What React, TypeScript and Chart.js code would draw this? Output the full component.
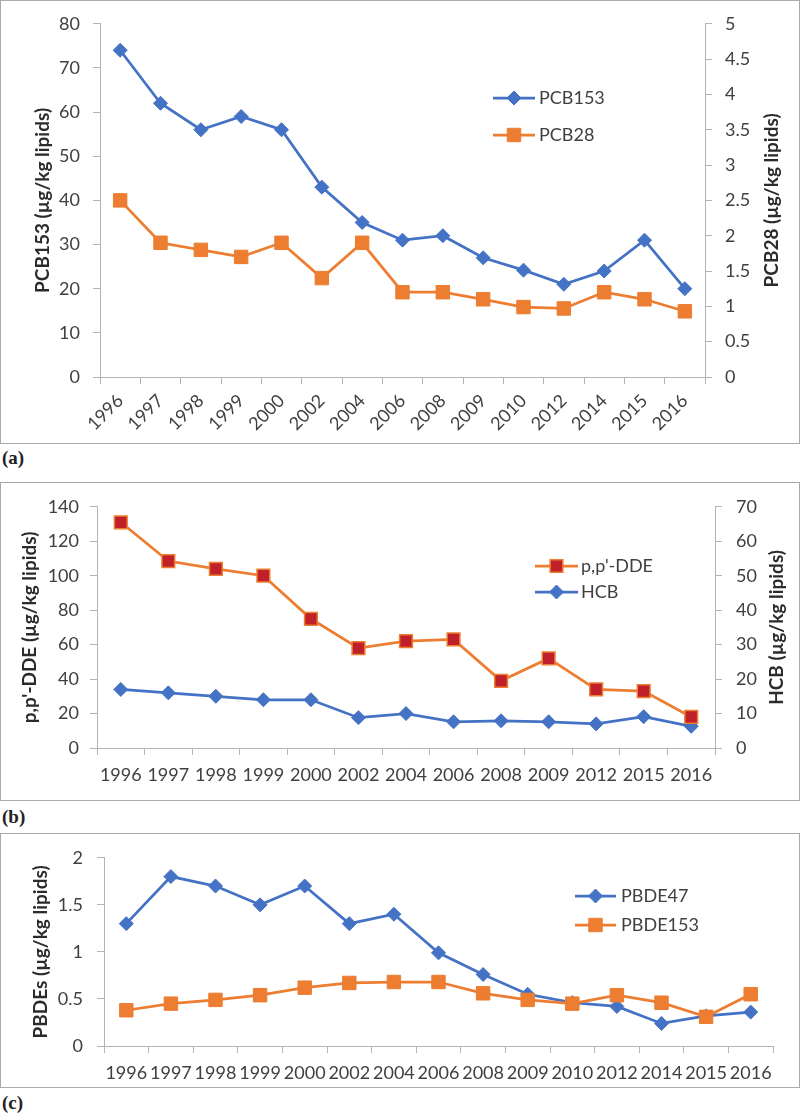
import React, { useEffect, useRef } from 'react';
import { Chart, registerables } from 'chart.js';

Chart.register(...registerables);

// ---------- data ----------
const yearsA = ['1996', '1997', '1998', '1999', '2000', '2002', '2004', '2006', '2008', '2009', '2010', '2012', '2014', '2015', '2016'];
const pcb153 = [74, 62, 56, 59, 56, 43, 35, 31, 32, 27, 24.2, 21, 24, 31, 20];
const pcb28 = [2.5, 1.9, 1.8, 1.7, 1.9, 1.4, 1.9, 1.2, 1.2, 1.1, 0.99, 0.97, 1.2, 1.1, 0.93];

const yearsB = ['1996', '1997', '1998', '1999', '2000', '2002', '2004', '2006', '2008', '2009', '2012', '2015', '2016'];
const ddeValues = [131, 108.5, 104, 100, 75, 58, 62, 63, 39, 52, 34, 33, 18];
const hcbValues = [17, 16, 15, 14, 14, 8.8, 10, 7.6, 7.9, 7.6, 7, 9.1, 6.3];

const yearsC = ['1996', '1997', '1998', '1999', '2000', '2002', '2004', '2006', '2008', '2009', '2010', '2012', '2014', '2015', '2016'];
const pbde47 = [1.3, 1.8, 1.7, 1.5, 1.7, 1.3, 1.4, 0.99, 0.76, 0.55, 0.46, 0.42, 0.24, 0.32, 0.36];
const pbde153 = [0.38, 0.45, 0.49, 0.54, 0.62, 0.67, 0.68, 0.68, 0.56, 0.49, 0.45, 0.54, 0.46, 0.31, 0.55];

// ---------- styles ----------
const FONT = 'Lato, "Open Sans", "Noto Sans", sans-serif';
const TICK = '#404040';
const TITLE = '#2b2b2b';
const AXIS = '#b4b4b4';
const BLUE = '#4472C4';
const ORANGE = '#ED7D31';
const DARKRED = '#C0202A';

function drawMarker(ctx: CanvasRenderingContext2D, style: string, x: number, y: number, r: number, fill: string, stroke: string, bw: number) {
  ctx.beginPath();
  if (style === 'rectRot') {
    ctx.moveTo(x - r, y);
    ctx.lineTo(x, y - r);
    ctx.lineTo(x + r, y);
    ctx.lineTo(x, y + r);
    ctx.closePath();
  } else {
    const s = Math.SQRT1_2 * r;
    ctx.rect(x - s, y - s, 2 * s, 2 * s);
  }
  ctx.fillStyle = fill;
  ctx.fill();
  ctx.lineWidth = bw;
  ctx.strokeStyle = stroke;
  ctx.stroke();
}

const legendPlugin = {
  id: 'boxLegend',
  afterDraw(chart: any, _args: any, opts: any) {
    if (!opts || !opts.items) return;
    const ctx: CanvasRenderingContext2D = chart.ctx;
    const items = opts.items as { index: number; y: number }[];
    items.forEach((it) => {
      const ds = chart.data.datasets[it.index];
      ctx.save();
      ctx.strokeStyle = ds.borderColor;
      ctx.lineWidth = ds.borderWidth;
      ctx.beginPath();
      ctx.moveTo(opts.x0, it.y);
      ctx.lineTo(opts.x1, it.y);
      ctx.stroke();
      drawMarker(ctx, ds.pointStyle, (opts.x0 + opts.x1) / 2, it.y, ds.pointRadius,
        ds.pointBackgroundColor, ds.pointBorderColor, ds.pointBorderWidth);
      ctx.fillStyle = TICK;
      ctx.font = `18px ${FONT}`;
      ctx.textAlign = 'left';
      ctx.textBaseline = 'middle';
      ctx.fillText(ds.label, opts.textX, it.y);
      ctx.restore();
    });
  },
};

const sideTitlePlugin = {
  id: 'sideTitle',
  afterDraw(chart: any, _args: any, opts: any) {
    if (!opts || !opts.text) return;
    const ctx: CanvasRenderingContext2D = chart.ctx;
    const ca = chart.chartArea;
    ctx.save();
    ctx.translate(opts.x, (ca.top + ca.bottom) / 2);
    ctx.rotate(-Math.PI / 2);
    ctx.font = `bold 19px ${FONT}`;
    ctx.fillStyle = TITLE;
    ctx.textAlign = 'center';
    ctx.textBaseline = 'middle';
    ctx.fillText(opts.text, 0, 0);
    ctx.restore();
  },
};

const fmt = (v: any) => String(+v);

function yAxis(o: { position: string; max: number; step: number; width: number; tickPad: number; title?: string; titlePad?: number; }) {
  return {
    type: 'linear',
    position: o.position,
    min: 0,
    max: o.max,
    ticks: { stepSize: o.step, padding: o.tickPad, color: TICK, font: { family: FONT, size: 18 }, callback: fmt },
    grid: { drawOnChartArea: false, drawTicks: true, tickLength: 7, color: AXIS, tickColor: AXIS },
    border: { display: true, color: AXIS, width: 1 },
    title: {
      display: !!o.title,
      text: o.title || '',
      color: TITLE,
      font: { family: FONT, size: 19, weight: 'bold' },
      padding: { top: o.titlePad || 0, bottom: 0 },
    },
    afterFit: (s: any) => { s.width = o.width; },
  };
}

function xAxis(height: number, pad: number, rotation: number) {
  return {
    type: 'category',
    offset: true,
    grid: { offset: true, drawOnChartArea: false, drawTicks: true, tickLength: 7, color: AXIS, tickColor: AXIS },
    border: { display: true, color: AXIS, width: 1 },
    ticks: { autoSkip: false, minRotation: rotation, maxRotation: rotation, padding: pad, color: TICK, font: { family: FONT, size: 18 } },
    afterFit: (s: any) => { s.height = height; },
  };
}

function lineDs(label: string, data: number[], color: string, style: string, r: number, axis: string, order: number, fill?: string, pbw?: number) {
  return {
    label,
    data,
    yAxisID: axis,
    borderColor: color,
    backgroundColor: color,
    borderWidth: 2.75,
    pointStyle: style,
    pointRadius: r,
    pointHoverRadius: r,
    pointBackgroundColor: fill || color,
    pointBorderColor: color,
    pointBorderWidth: pbw ?? 1,
    tension: 0,
    order,
  };
}

const configA: any = {
  type: 'line',
  data: {
    labels: yearsA,
    datasets: [
      lineDs('PCB153', pcb153, BLUE, 'rectRot', 7, 'y', 0),
      lineDs('PCB28', pcb28, ORANGE, 'rect', 9.5, 'y2', 1),
    ],
  },
  options: {
    responsive: false,
    animation: false,
    layout: { padding: { top: 23, left: 0, right: 0, bottom: 0 } },
    plugins: {
      legend: { display: false },
      tooltip: { enabled: false },
      boxLegend: { x0: 493, x1: 535, textX: 539, items: [{ index: 0, y: 98 }, { index: 1, y: 135 }] },
      sideTitle: { text: 'PCB28 (µg/kg lipids)', x: 772 },
    },
    scales: {
      x: xAxis(67, 6, 45),
      y: yAxis({ position: 'left', max: 80, step: 10, width: 100, tickPad: 13, title: 'PCB153 (µg/kg lipids)', titlePad: 31 }),
      y2: yAxis({ position: 'right', max: 5, step: 0.5, width: 95, tickPad: 13 }),
    },
  },
  plugins: [legendPlugin, sideTitlePlugin],
};

const configB: any = {
  type: 'line',
  data: {
    labels: yearsB,
    datasets: [
      lineDs("p,p'-DDE", ddeValues, ORANGE, 'rect', 9, 'y', 0, DARKRED, 1.5),
      lineDs('HCB', hcbValues, BLUE, 'rectRot', 7, 'y2', 1),
    ],
  },
  options: {
    responsive: false,
    animation: false,
    layout: { padding: { top: 16, left: 0, right: 0, bottom: 0 } },
    plugins: {
      legend: { display: false },
      tooltip: { enabled: false },
      boxLegend: { x0: 535, x1: 578, textX: 581, items: [{ index: 0, y: 84 }, { index: 1, y: 110 }] },
      sideTitle: { text: 'HCB (µg/kg lipids)', x: 777 },
    },
    scales: {
      x: xAxis(53, 9, 0),
      y: yAxis({ position: 'left', max: 140, step: 20, width: 97, tickPad: 11, title: "p,p'-DDE (µg/kg lipids)", titlePad: 18 }),
      y2: yAxis({ position: 'right', max: 70, step: 10, width: 85, tickPad: 14 }),
    },
  },
  plugins: [legendPlugin, sideTitlePlugin],
};

const configC: any = {
  type: 'line',
  data: {
    labels: yearsC,
    datasets: [
      lineDs('PBDE47', pbde47, BLUE, 'rectRot', 7, 'y', 1),
      lineDs('PBDE153', pbde153, ORANGE, 'rect', 9.5, 'y', 0),
    ],
  },
  options: {
    responsive: false,
    animation: false,
    layout: { padding: { top: 14, left: 0, right: 27, bottom: 0 } },
    plugins: {
      legend: { display: false },
      tooltip: { enabled: false },
      boxLegend: { x0: 575, x1: 616, textX: 621, items: [{ index: 0, y: 63 }, { index: 1, y: 92 }] },
    },
    scales: {
      x: xAxis(42, 9, 0),
      y: yAxis({ position: 'left', max: 2, step: 0.5, width: 104, tickPad: 14, title: 'PBDEs (µg/kg lipids)', titlePad: 29 }),
    },
  },
  plugins: [legendPlugin],
};

function Panel({ config, top, height }: { config: any; top: number; height: number }) {
  const ref = useRef<HTMLCanvasElement>(null);
  useEffect(() => {
    const chart = new Chart(ref.current as HTMLCanvasElement, config);
    return () => chart.destroy();
  }, [config]);
  return (
    <>
      <canvas
        ref={ref}
        width={800}
        height={height}
        style={{ position: 'absolute', left: 0, top, width: 800, height, display: 'block' }}
      />
      <div
        style={{
          position: 'absolute', left: 0, top, width: 800, height,
          boxSizing: 'border-box', border: '1px solid #a9a9a9', pointerEvents: 'none',
        }}
      />
    </>
  );
}

const labelStyle = (top: number): React.CSSProperties => ({
  position: 'absolute',
  left: 2,
  top,
  fontFamily: '"Liberation Serif", "DejaVu Serif", serif',
  fontWeight: 'bold',
  fontSize: 19,
  lineHeight: '20px',
  color: '#222',
});

export default function App() {
  return (
    <div style={{ position: 'absolute', left: 0, top: 0, width: 800, height: 1115, background: '#fff', overflow: 'hidden' }}>
      <Panel config={configA} top={0} height={444} />
      <div style={labelStyle(448)}>(a)</div>
      <Panel config={configB} top={482} height={319} />
      <div style={labelStyle(807)}>(b)</div>
      <Panel config={configC} top={833} height={255} />
      <div style={labelStyle(1093)}>(c)</div>
    </div>
  );
}
